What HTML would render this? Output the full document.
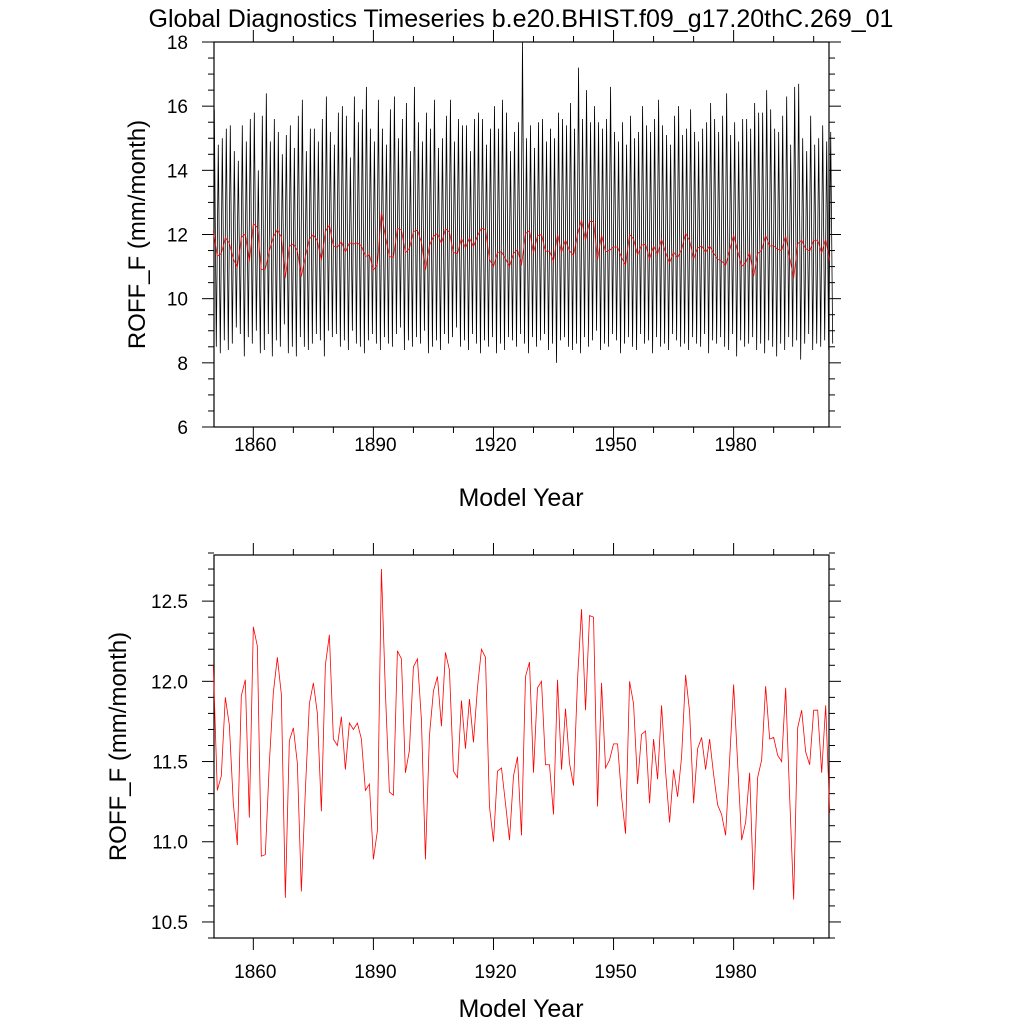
<!DOCTYPE html>
<html><head><meta charset="utf-8"><style>
html,body{margin:0;padding:0;background:#fff;}
svg{display:block;font-family:"Liberation Sans",Arial,sans-serif;}
</style></head><body>
<svg id="chart" width="1024" height="1024" viewBox="0 0 1024 1024" xmlns="http://www.w3.org/2000/svg">
<text x="521" y="27" font-size="25" text-anchor="middle">Global Diagnostics Timeseries b.e20.BHIST.f09_g17.20thC.269_01</text>
<g id="top"></g>
<g id="bot"></g>
</svg>
<script>
const startYear = 1850;
const annualMean = [12.10,11.32,11.41,11.90,11.73,11.24,10.98,11.91,12.01,11.15,
12.34,12.22,10.91,10.92,11.49,11.93,12.15,11.92,10.65,11.63,
11.71,11.49,10.69,11.32,11.86,11.99,11.80,11.19,12.10,12.29,
11.64,11.60,11.78,11.45,11.74,11.70,11.74,11.64,11.32,11.36,
10.89,11.07,12.70,11.93,11.31,11.29,12.19,12.14,11.43,11.57,
12.09,12.14,11.76,10.89,11.66,11.94,12.03,11.72,12.18,12.07,
11.44,11.40,11.88,11.58,11.89,11.62,11.96,12.20,12.15,11.22,
11.00,11.44,11.46,11.24,11.01,11.41,11.53,11.04,
12.03,12.12,11.43,11.96,12.00,11.48,11.48,11.17,12.01,11.45,11.83,11.49,11.35,12.01,12.45,11.82,12.41,12.40,11.22,11.99,11.46,11.51,11.61,11.61,11.28,11.05,12.00,11.86,11.36,11.67,11.69,11.24,11.64,11.39,11.85,11.44,11.12,11.45,11.28,11.53,12.04,11.81,11.24,11.58,11.65,11.45,11.64,11.42,11.23,11.17,11.04,11.51,11.98,11.49,11.01,11.12,11.43,10.70,11.40,11.51,11.97,11.64,11.65,11.54,11.50,11.96,11.28,10.64,11.71,11.82,11.56,11.48,11.82,11.82,11.43,11.85,11.18];
const monthlyPeak = [15.9,14.8,15.0,15.3,15.4,14.6,14.3,15.4,14.9,15.6,
15.8,14.0,15.7,16.4,14.9,15.6,15.2,14.5,15.1,15.4,
14.7,15.7,16.2,14.6,15.3,15.3,14.9,15.6,16.3,15.2,
14.8,15.8,16.0,15.7,14.4,16.3,15.5,15.9,16.6,15.3,
14.9,16.2,15.3,14.8,15.9,16.3,15.0,15.6,16.1,14.6,
16.6,15.5,14.9,15.8,15.3,16.2,14.7,15.0,15.7,16.2,
14.9,15.6,15.4,15.4,14.6,15.6,15.8,15.6,14.8,15.3,
16.0,15.3,16.2,15.8,14.6,15.2,15.5,18.0,15.0,15.4,
14.7,15.5,15.6,14.9,15.3,15.0,15.8,15.6,15.4,16.1,
15.3,17.2,15.6,16.5,15.5,16.0,15.5,15.3,15.6,16.6,
15.2,14.9,15.5,14.8,15.7,15.0,15.2,16.0,15.4,15.2,
15.6,16.2,15.4,15.1,14.8,15.7,16.0,15.1,15.3,15.9,
15.2,14.9,15.3,15.5,16.1,15.6,15.2,15.7,16.4,15.1,
15.5,14.9,15.6,15.6,15.3,16.1,15.8,15.8,16.5,15.9,
15.3,15.2,15.7,16.3,14.8,16.6,16.7,15.0,14.6,15.7,
14.8,15.0,15.4,14.9,15.2];
const monthlyTrough = [8.5,8.3,8.7,8.4,8.6,9.1,8.9,8.2,8.8,8.6,
9.0,8.3,8.4,8.9,8.2,8.7,8.5,9.2,8.3,8.5,
8.2,8.8,8.5,8.4,8.6,8.9,8.7,8.2,9.0,8.8,
8.9,8.5,8.7,8.4,9.0,8.6,8.5,8.3,8.7,8.9,
8.6,8.4,8.8,8.6,8.5,8.9,9.1,8.4,8.7,8.5,
8.8,8.6,9.0,8.3,8.5,8.7,8.4,8.9,8.6,8.8,
9.1,8.5,8.7,8.4,8.9,8.6,8.3,8.7,8.5,8.8,
8.3,8.6,8.4,8.8,8.7,8.5,8.9,8.6,8.3,8.8,
8.5,8.7,8.9,8.4,8.6,8.0,8.7,8.8,8.5,8.4,
8.6,8.3,8.8,8.5,8.7,9.0,8.4,8.6,8.5,8.9,
8.7,8.3,8.6,8.8,8.5,8.4,8.9,8.6,8.7,8.3,
8.8,8.5,8.6,8.4,8.9,8.7,8.5,8.6,8.4,8.8,
8.6,8.5,8.9,8.3,8.7,8.6,8.8,8.5,8.4,8.9,
8.2,8.7,8.5,8.6,8.8,8.4,8.6,8.3,8.7,8.5,
8.2,8.6,8.4,8.8,8.5,8.7,8.1,8.6,8.9,8.4,
8.6,8.5,8.7,8.4,8.6];
const xTickYears = [1860,1890,1920,1950,1980];
const xMinorYears = [1850,1870,1880,1900,1910,1930,1940,1960,1970,1990,2000];
const topYTicks = [6,8,10,12,14,16,18];
const botYTicks = [10.5,11.0,11.5,12.0,12.5];

const NS = "http://www.w3.org/2000/svg";
function mk(parent, tag, attrs, text){
  const e = document.createElementNS(NS, tag);
  for (const k in attrs) e.setAttribute(k, attrs[k]);
  if (text !== undefined) e.textContent = text;
  parent.appendChild(e);
  return e;
}
const X0 = 213.3, PXY = 4.0025;
function xs(yr){ return X0 + (yr - 1850) * PXY; }

function panel(g, top, bot, ymin, ymax, yTicks, yMinorStep, decimals, titleX, labelY, titleY){
  const L = 214, R = 829;
  const ys = v => bot - (v - ymin) / (ymax - ymin) * (bot - top);
  const fr = mk(g, 'rect', {x:L, y:top, width:R-L, height:bot-top, fill:'none', stroke:'#000', 'stroke-width':1.2});
  
  
  const nMin = Math.round((ymax - ymin) / yMinorStep);
  for (let i = 0; i <= nMin; i++){
    const v = ymin + i * yMinorStep, y = ys(v);
    const major = yTicks.some(t => Math.abs(t - v) < 1e-6);
    const len = major ? 12 : 6;
    const t1 = mk(g, 'line', {x1:L-len, x2:L, y1:y, y2:y, stroke:'#000', 'stroke-width':1});
    
    
    const t2 = mk(g, 'line', {x1:R, x2:R+len, y1:y, y2:y, stroke:'#000', 'stroke-width':1});
    
    
  }
  yTicks.forEach(v => {
    const t = mk(g, 'text', {x:188, y:ys(v)+7, 'font-size':19, 'text-anchor':'end'}, v.toFixed(decimals));
    
    
  });
  xTickYears.concat(xMinorYears).forEach(yr => {
    const x = xs(yr);
    if (x < L - 0.5 || x > R + 0.5) return;
    const major = xTickYears.includes(yr);
    const len = major ? 12 : 6;
    const b = mk(g, 'line', {x1:x, x2:x, y1:bot, y2:bot+len, stroke:'#000', 'stroke-width':1});
    
    
    const tp = mk(g, 'line', {x1:x, x2:x, y1:top-len, y2:top, stroke:'#000', 'stroke-width':1});
    
    
  });
  xTickYears.forEach(yr => {
    const t = mk(g, 'text', {x:xs(yr)+2, y:labelY, 'font-size':19, 'text-anchor':'middle'}, String(yr));
    
    
  });
  const xt = mk(g, 'text', {x:521, y:titleY, 'font-size':25, 'text-anchor':'middle'}, 'Model Year');
  
  
  const cy = (top + bot) / 2;
  const yt = mk(g, 'text', {x:titleX, y:cy, 'font-size':24, 'text-anchor':'middle', transform:`rotate(-90 ${titleX} ${cy})`}, 'ROFF_F (mm/month)');
  
  
  return ys;
}

const gTop = document.getElementById('top');
const ysT = panel(gTop, 42, 427, 6, 18, topYTicks, 0.5, 0, 145, 451, 506);
let pts = [];
for (let i = 0; i < monthlyPeak.length; i++){
  pts.push(xs(startYear + i + 0.25).toFixed(2) + ',' + ysT(monthlyPeak[i]).toFixed(2));
  pts.push(xs(startYear + i + 0.75).toFixed(2) + ',' + ysT(monthlyTrough[i]).toFixed(2));
}
const ml = mk(gTop, 'polyline', {points:pts.join(' '), fill:'none', stroke:'#000', 'stroke-width':0.8});


const at = mk(gTop, 'polyline', {points:annualMean.map((v,i)=>xs(startYear+i).toFixed(2)+','+ysT(v).toFixed(2)).join(' '), fill:'none', stroke:'#ff0000', 'stroke-width':0.8});



const gBot = document.getElementById('bot');
const ysB = panel(gBot, 555, 938, 10.4, 12.7875, botYTicks, 0.1, 1, 126, 978, 1017);
const ab = mk(gBot, 'polyline', {points:annualMean.map((v,i)=>xs(startYear+i).toFixed(2)+','+ysB(v).toFixed(2)).join(' '), fill:'none', stroke:'#ff0000', 'stroke-width':0.8});


</script>
</body></html>
